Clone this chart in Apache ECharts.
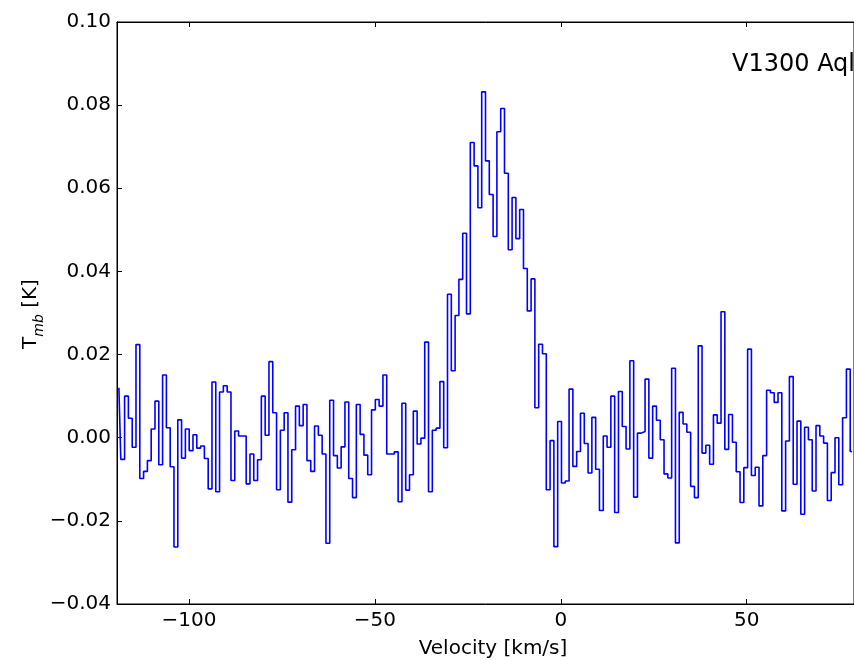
<!DOCTYPE html>
<html>
<head>
<meta charset="utf-8">
<script src="https://cdn.jsdelivr.net/npm/echarts/dist/echarts.min.js"></script>
<style>
html, body { margin: 0; padding: 0; background: #ffffff; }
#chart { width: 854px; height: 660px; }
</style>
</head>
<body>
<div id="chart"></div>
<script>
// Spectral axis definition (centre of first channel and channel width, km/s)
const firstChannelVelocity = -118.83;
const channelWidth = 1.0216;

// Main-beam temperature per channel (K)
const tmb = [
  0.0120, -0.0052, 0.0100, 0.0047, -0.0023, 0.0224, -0.0098, -0.0081, -0.0055, 0.0021,
  0.0088, -0.0065, 0.0151, 0.0024, -0.0070, -0.0263, 0.0043, -0.0049, 0.0021, -0.0031,
  0.0007, -0.0025, -0.0020, -0.0050, -0.0123, 0.0134, -0.0130, 0.0110, 0.0125, 0.0110,
  -0.0103, 0.0016, 0.0004, 0.0004, -0.0111, -0.0039, -0.0103, -0.0053, 0.0100, 0.0006,
  0.0183, 0.0060, -0.0125, 0.0018, 0.0060, -0.0155, -0.0029, 0.0076, 0.0029, 0.0080,
  -0.0055, -0.0081, 0.0028, 0.0006, -0.0039, -0.0254, 0.0090, -0.0043, -0.0073, -0.0022,
  0.0086, -0.0098, -0.0144, 0.0080, 0.0008, -0.0042, -0.0089, 0.0067, 0.0092, 0.0076,
  0.0151, -0.0039, -0.0039, -0.0034, -0.0154, 0.0083, -0.0126, -0.0089, 0.0064, -0.0015,
  -0.0001, 0.0230, -0.0130, 0.0018, 0.0023, 0.0135, -0.0024, 0.0345, 0.0161, 0.0294,
  0.0381, 0.0492, 0.0298, 0.0710, 0.0654, 0.0553, 0.0832, 0.0666, 0.0585, 0.0484,
  0.0736, 0.0792, 0.0636, 0.0452, 0.0578, 0.0479, 0.0549, 0.0407, 0.0305, 0.0382,
  0.0072, 0.0225, 0.0202, -0.0125, -0.0007, -0.0262, 0.0039, -0.0109, -0.0104, 0.0117,
  -0.0069, -0.0033, 0.0059, -0.0014, -0.0085, 0.0049, -0.0076, -0.0175, 0.0004, -0.0023,
  0.0100, -0.0180, 0.0111, 0.0027, -0.0027, 0.0185, -0.0143, 0.0011, 0.0015, 0.0141,
  -0.0049, 0.0076, 0.0042, -0.0005, -0.0087, -0.0097, 0.0167, -0.0253, 0.0061, 0.0033,
  0.0013, -0.0117, -0.0144, 0.0221, -0.0037, -0.0018, -0.0064, 0.0055, 0.0035, 0.0303,
  -0.0028, 0.0056, -0.0011, -0.0082, -0.0156, -0.0072, 0.0213, -0.0091, -0.0071, -0.0164,
  -0.0043, 0.0114, 0.0108, 0.0085, 0.0108, -0.0176, -0.0008, 0.0147, -0.0112, 0.0040,
  -0.0184, 0.0025, -0.0005, -0.0128, 0.0029, 0.0004, -0.0013, -0.0151, -0.0084, 0.0000,
  -0.0113, 0.0048, 0.0165, -0.0033
];

// Axis ticks and texts
const xTickValues = [-100, -50, 0, 50];
const yTickMin = -0.04;
const yTickMax = 0.10;
const yTickStep = 0.02;
const sourceLabel = 'V1300 Aql';
const xTitle = 'Velocity [km/s]';
const yTitleMain = 'T';
const yTitleSub = 'mb';
const yTitleUnit = ' [K]';

const FONT = 'DejaVu Sans';

const xMin = firstChannelVelocity - channelWidth / 2;
const xMax = firstChannelVelocity + (tmb.length - 1) * channelWidth + channelWidth / 2;

const seriesData = tmb.map((t, i) => [firstChannelVelocity + i * channelWidth, t]);

const fmtY = v => v.toFixed(2).replace('-', '\u2212');
const fmtX = v => String(v).replace('-', '\u2212');

const chart = echarts.init(document.getElementById('chart'), null, { renderer: 'canvas' });

const tickStyle = { inside: true, length: 5, lineStyle: { color: '#000', width: 1 } };

chart.setOption({
  animation: false,
  backgroundColor: '#ffffff',
  grid: {
    left: 117, top: 22, bottom: 56, right: -2,
    show: true, borderColor: '#000', borderWidth: 1, backgroundColor: 'transparent',
    containLabel: false
  },
  xAxis: [
    {
      type: 'value', min: xMin, max: xMax, position: 'bottom',
      axisLine: { show: true, onZero: false, lineStyle: { color: '#000', width: 1 } },
      axisTick: Object.assign({ customValues: xTickValues }, tickStyle),
      axisLabel: {
        customValues: xTickValues, formatter: fmtX, margin: 7,
        fontFamily: FONT, fontSize: 20, color: '#000'
      },
      splitLine: { show: false }
    },
    {
      type: 'value', min: xMin, max: xMax, position: 'top',
      axisLine: { show: true, onZero: false, lineStyle: { color: '#000', width: 1 } },
      axisTick: Object.assign({ customValues: xTickValues }, tickStyle),
      axisLabel: { show: false },
      splitLine: { show: false }
    }
  ],
  yAxis: {
    type: 'value', min: yTickMin, max: yTickMax, interval: yTickStep,
    axisLine: { show: true, onZero: false, lineStyle: { color: '#000', width: 1 } },
    axisTick: tickStyle,
    axisLabel: { formatter: fmtY, margin: 6, fontFamily: FONT, fontSize: 20, color: '#000' },
    splitLine: { show: false }
  },
  series: [{
    type: 'line',
    xAxisIndex: 0,
    data: seriesData,
    step: 'middle',
    symbol: 'none',
    clip: true,
    lineStyle: { color: '#0000ff', width: 1.6 }
  }],
  graphic: [
    {
      type: 'text', x: 732, y: 65,
      style: { text: sourceLabel, fontFamily: FONT, fontSize: 24, fill: '#000', align: 'left', verticalAlign: 'middle' }
    },
    {
      type: 'text', x: 493, y: 648.5,
      style: { text: xTitle, fontFamily: FONT, fontSize: 20, fill: '#000', align: 'center', verticalAlign: 'middle' }
    },
    {
      type: 'text', x: 31, y: 314, rotation: Math.PI / 2,
      style: {
        text: '{t|' + yTitleMain + '}{s|' + yTitleSub + '}{t|' + yTitleUnit + '}',
        align: 'center', verticalAlign: 'middle',
        rich: {
          t: { fontFamily: FONT, fontSize: 20, fill: '#000', lineHeight: 30, verticalAlign: 'middle' },
          s: { fontFamily: FONT, fontSize: 14, fontStyle: 'italic', fill: '#000', lineHeight: 30, verticalAlign: 'bottom' }
        }
      }
    }
  ]
});
</script>
</body>
</html>
